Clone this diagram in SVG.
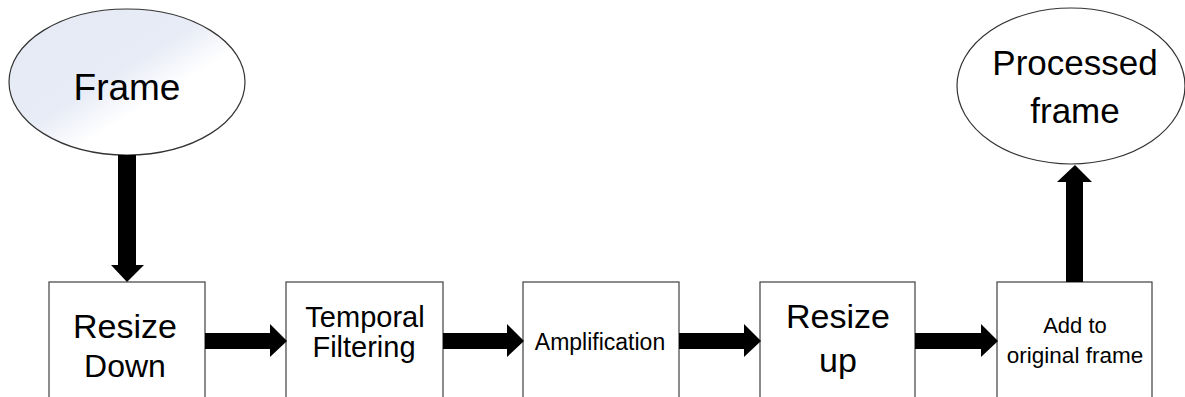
<svg xmlns="http://www.w3.org/2000/svg" width="1185" height="397" viewBox="0 0 1185 397">
<defs>
<linearGradient id="frameFill" x1="0" y1="0" x2="1" y2="1">
<stop offset="0" stop-color="#E5E9F3"/>
<stop offset="0.45" stop-color="#E8ECF6"/>
<stop offset="0.62" stop-color="#FFFFFF"/>
<stop offset="1" stop-color="#FFFFFF"/>
</linearGradient>
<style>
.box{fill:#FFFFFF;stroke:#404040;stroke-width:1.2}
.ell{stroke:#333333;stroke-width:1.2}
.t{font-family:"Liberation Sans",Arial,sans-serif;fill:#000000;text-anchor:middle}
.arrow{fill:#000000}
</style>
</defs>
<rect width="1185" height="397" fill="#FFFFFF"/>

<g id="node-frame">
<ellipse class="ell" cx="127" cy="82" rx="118" ry="73" fill="url(#frameFill)"/>
<text class="t" x="127" y="100" font-size="37">Frame</text>
</g>

<g id="node-processed">
<ellipse class="ell" cx="1071" cy="86" rx="114" ry="78" fill="#FFFFFF"/>
<text class="t" x="1075" y="75" font-size="35">Processed</text>
<text class="t" x="1075" y="123" font-size="35">frame</text>
</g>

<g id="node-resize-down">
<rect class="box" x="49" y="282" width="156" height="140"/>
<text class="t" x="125" y="338" font-size="34">Resize</text>
<text class="t" x="125" y="377" font-size="32">Down</text>
</g>

<g id="node-temporal">
<rect class="box" x="286" y="282" width="157" height="140"/>
<text class="t" x="365" y="327" font-size="29">Temporal</text>
<text class="t" x="364" y="357" font-size="29">Filtering</text>
</g>

<g id="node-amplification">
<rect class="box" x="523" y="282" width="156" height="140"/>
<text class="t" x="600" y="350" font-size="23">Amplification</text>
</g>

<g id="node-resize-up">
<rect class="box" x="760" y="282" width="155" height="140"/>
<text class="t" x="838" y="328" font-size="34">Resize</text>
<text class="t" x="838" y="372" font-size="34">up</text>
</g>

<g id="node-add">
<rect class="box" x="997" y="282" width="155" height="140"/>
<text class="t" x="1075" y="333" font-size="22">Add to</text>
<text class="t" x="1075" y="363" font-size="22.5">original frame</text>
</g>

<g id="connectors">
<polygon class="arrow" points="118,155 136,155 136,265 144,265 127,282 111,265 118,265"/>
<polygon class="arrow" points="205,333 270,333 270,324 287,341 270,357 270,349 205,349"/>
<polygon class="arrow" points="443,333 507,333 507,324 524,341 507,357 507,349 443,349"/>
<polygon class="arrow" points="679,333 744,333 744,324 761,341 744,357 744,349 679,349"/>
<polygon class="arrow" points="915,333 981,333 981,324 998,341 981,357 981,349 915,349"/>
<polygon class="arrow" points="1066,282 1083,282 1083,182 1092,182 1075,165 1057,182 1066,182"/>
</g>
</svg>
